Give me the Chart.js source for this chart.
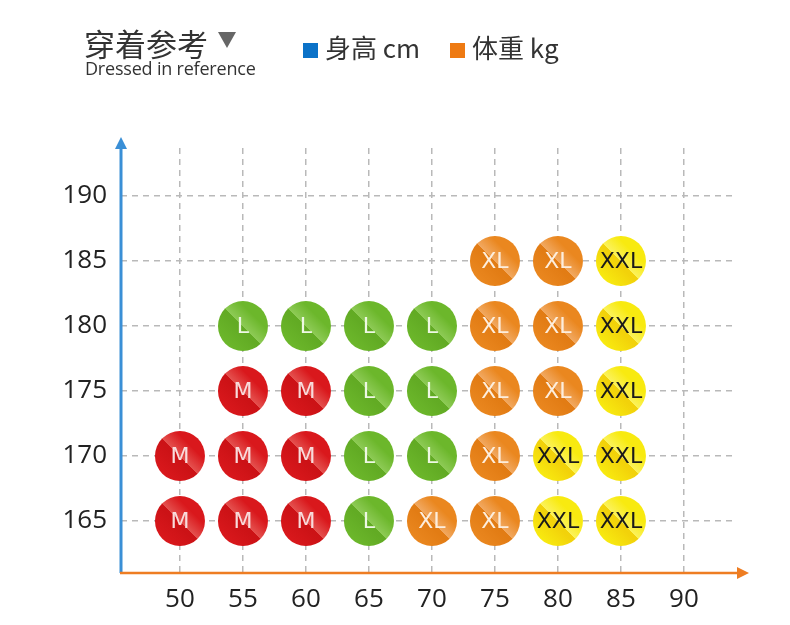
<!DOCTYPE html>
<html>
<head>
<meta charset="utf-8">
<script src="https://cdn.jsdelivr.net/npm/chart.js@4.4.1/dist/chart.umd.min.js"></script>
<style>
  body { margin: 0; background: #fff; }
  #wrap { position: relative; width: 790px; height: 625px; }
  #chart { position: absolute; left: 0; top: 0; }
  .title { position: absolute; left: 84px; top: 20px; font: 31px "Noto Sans CJK SC", sans-serif; color: #333; }
  .tri { display: inline-block; width: 0; height: 0; margin-left: 10px; vertical-align: 8px;
         border-left: 9px solid transparent; border-right: 9px solid transparent; border-top: 16px solid #666; }
  .sub { position: absolute; left: 85px; top: 56px; font: 18px "Open Sans", sans-serif; color: #333; letter-spacing: -0.2px; }
  .legend { position: absolute; left: 303px; top: 28px; font: 26px "Noto Sans CJK SC", sans-serif; color: #333; white-space: nowrap; }
  .legend span.box { display: inline-block; width: 15px; height: 15px; vertical-align: 0px; margin-right: 7px; }
  .legend span.item { margin-right: 24px; }
</style>
</head>
<body>
<div id="wrap">
  <canvas id="chart" width="790" height="625"></canvas>
  <div class="title">穿着参考<span class="tri"></span></div>
  <div class="sub">Dressed in reference</div>
  <div class="legend">
    <span class="item"><span class="box" style="background:#0b72c8"></span>身高 cm</span>
    <span class="item"><span class="box" style="background:#ee7a12"></span>体重 kg</span>
  </div>
</div>
<script>
// 体重 (kg) 刻度 / 身高 (cm) 刻度
const weightTicks = [50, 55, 60, 65, 70, 75, 80, 85, 90];
const heightTicks = [165, 170, 175, 180, 185, 190];

// 尺码
const sizeLabels = ['M', 'L', 'XL', 'XXL'];

// [体重, 身高]
const pointsM = [[50,165],[55,165],[60,165],[50,170],[55,170],[60,170],[55,175],[60,175]];
const pointsL = [[65,165],[65,170],[70,170],[65,175],[70,175],[55,180],[60,180],[65,180],[70,180]];
const pointsXL = [[70,165],[75,165],[75,170],[75,175],[80,175],[75,180],[80,180],[75,185],[80,185]];
const pointsXXL = [[80,165],[85,165],[80,170],[85,170],[85,175],[85,180],[85,185]];

const sizeColors = {
  M:   { dark: '#cc1216', base: '#d9181c', light: '#e4504e', text: '#f8dcdc' },
  L:   { dark: '#62ab24', base: '#6cb72b', light: '#8dca55', text: '#eef8e4' },
  XL:  { dark: '#e27c14', base: '#ea871f', light: '#f1a860', text: '#fdeedd' },
  XXL: { dark: '#f2d20a', base: '#f8ea10', light: '#fbf25a', text: '#1a1a1a' }
};

const R = 25;

function circleFill(name) {
  const c = sizeColors[name];
  return (ctx) => {
    const chart = ctx.chart;
    if (ctx.type !== 'data' || !chart.chartArea) return c.base;
    const px = chart.scales.x.getPixelForValue(ctx.raw.x);
    const py = chart.scales.y.getPixelForValue(ctx.raw.y);
    const g = chart.ctx.createLinearGradient(px - R * 0.7, py + R * 0.7, px + R * 0.7, py - R * 0.7);
    g.addColorStop(0, c.base);
    g.addColorStop(0.42, c.dark);
    g.addColorStop(0.5, c.dark);
    g.addColorStop(0.5, c.light);
    g.addColorStop(0.8, c.base);
    g.addColorStop(1, c.base);
    return g;
  };
}

const toXY = pts => pts.map(p => ({ x: p[0], y: p[1] }));

const datasets = [pointsM, pointsL, pointsXL, pointsXXL].map((pts, i) => ({
  label: sizeLabels[i],
  data: toXY(pts),
  pointRadius: R,
  pointHoverRadius: R,
  pointBorderWidth: 0,
  backgroundColor: circleFill(sizeLabels[i])
}));

// 坐标轴箭头
const axisArrows = {
  id: 'axisArrows',
  beforeDatasetsDraw(chart) {
    const { ctx, chartArea: a } = chart;
    ctx.save();
    // y 轴 (蓝)
    ctx.strokeStyle = '#3a8fd6';
    ctx.fillStyle = '#3a8fd6';
    ctx.lineWidth = 3;
    ctx.beginPath();
    ctx.moveTo(a.left, a.bottom);
    ctx.lineTo(a.left, a.top - 2);
    ctx.stroke();
    ctx.beginPath();
    ctx.moveTo(a.left, a.top - 11);
    ctx.lineTo(a.left - 6, a.top + 1);
    ctx.lineTo(a.left + 6, a.top + 1);
    ctx.closePath();
    ctx.fill();
    // x 轴 (橙)
    ctx.strokeStyle = '#ee7d22';
    ctx.fillStyle = '#ee7d22';
    ctx.lineWidth = 2.5;
    ctx.beginPath();
    ctx.moveTo(a.left - 1, a.bottom);
    ctx.lineTo(a.right + 2, a.bottom);
    ctx.stroke();
    ctx.beginPath();
    ctx.moveTo(a.right + 12, a.bottom);
    ctx.lineTo(a.right, a.bottom - 6);
    ctx.lineTo(a.right, a.bottom + 6);
    ctx.closePath();
    ctx.fill();
    ctx.restore();
  }
};

// 圆内尺码文字
const sizeText = {
  id: 'sizeText',
  afterDatasetsDraw(chart) {
    const ctx = chart.ctx;
    ctx.save();
    ctx.textAlign = 'center';
    ctx.textBaseline = 'middle';
    chart.data.datasets.forEach((ds, i) => {
      const meta = chart.getDatasetMeta(i);
      const c = sizeColors[ds.label];
      ctx.fillStyle = c.text;
      ctx.font = '22px "DejaVu Sans", sans-serif';
      meta.data.forEach(el => ctx.fillText(ds.label, el.x, el.y + 1));
    });
    ctx.restore();
  }
};

const gridStyle = {
  color: '#b9b9b9',
  lineWidth: 1.5,
  drawTicks: false
};

new Chart(document.getElementById('chart'), {
  type: 'scatter',
  data: { datasets },
  options: {
    responsive: false,
    animation: false,
    events: [],
    layout: { padding: { left: 0, top: 148, right: 53, bottom: 0 } },
    plugins: { legend: { display: false }, tooltip: { enabled: false } },
    scales: {
      x: {
        type: 'linear',
        min: 45.32,
        max: 94.21,
        afterBuildTicks: s => { s.ticks = weightTicks.map(v => ({ value: v })); },
        afterFit: s => { s.height = 52; },
        grid: gridStyle,
        border: { display: false, dash: [6, 5] },
        ticks: { color: '#222', padding: 11, font: { size: 26, family: '"Open Sans", sans-serif' } }
      },
      y: {
        type: 'linear',
        min: 161,
        max: 193.69,
        afterBuildTicks: s => { s.ticks = heightTicks.map(v => ({ value: v })); },
        afterFit: s => { s.width = 121; },
        grid: gridStyle,
        border: { display: false, dash: [6, 5] },
        ticks: { color: '#222', padding: 14, font: { size: 26, family: '"Open Sans", sans-serif' } }
      }
    }
  },
  plugins: [axisArrows, sizeText]
});
</script>
</body>
</html>
